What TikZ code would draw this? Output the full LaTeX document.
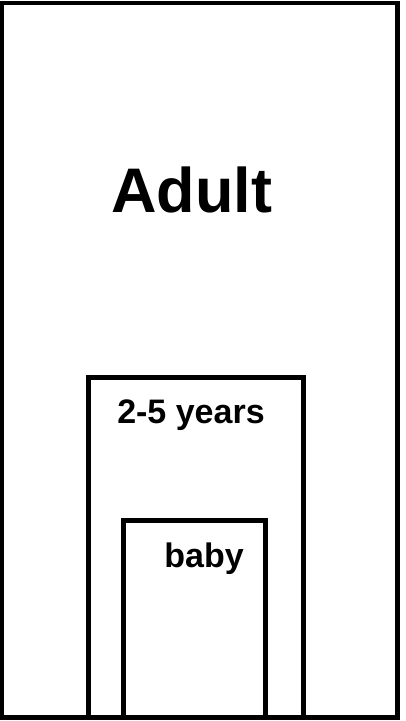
\documentclass[tikz,border=0pt]{standalone}
\usepackage{fontspec}
\setmainfont{Liberation Sans}
\begin{document}
\begin{tikzpicture}[x=1pt,y=-1pt,
  box/.style={draw=black,line width=4.6pt,fill=none,inner sep=0pt,outer sep=0pt,anchor=north west},
  lbl/.style={inner sep=0pt,anchor=base}]
\useasboundingbox (0,0) rectangle (405,721);
\fill[white] (0,0) rectangle (405,721);
\node[box,minimum width=395.5pt,minimum height=714.5pt] (adult) at (2,3) {};
\node[box,minimum width=215pt,minimum height=340pt] (kid) at (88.5,377.5) {};
\node[box,minimum width=142pt,minimum height=197pt] (baby) at (123.5,520.5) {};
\node[lbl,font=\bfseries\fontsize{63}{63}\selectfont] (tadult) at (191.5,212) {Adult};
\node[lbl,font=\bfseries\fontsize{34}{34}\selectfont] (tkid) at (191,423) {2-5 years};
\node[lbl,font=\bfseries\fontsize{34}{34}\selectfont] (tbaby) at (204,567) {baby};
\end{tikzpicture}
\end{document}
